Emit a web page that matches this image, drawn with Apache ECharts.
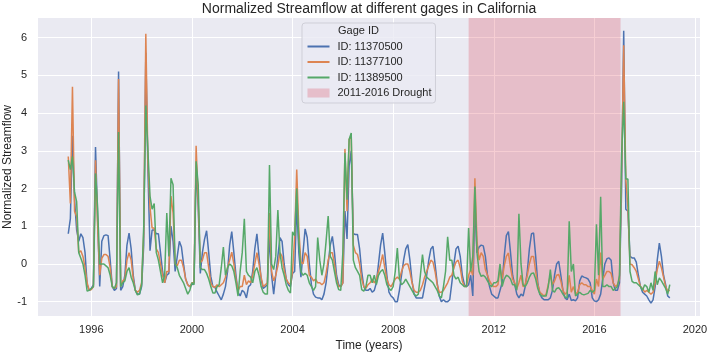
<!DOCTYPE html>
<html>
<head>
<meta charset="utf-8">
<script src="https://cdn.jsdelivr.net/npm/echarts@6/dist/echarts.min.js"></script>
<style>
  html, body { margin: 0; padding: 0; background: #fff; }
  #chart { width: 708px; height: 352px; }
</style>
</head>
<body>
<div id="chart"></div>
<script>
// monthly normalized streamflow, Jan 1995 .. Dec 2018 (one row per year)
const flow11370500 = [
  0.8, 1.2, 3.4, 1.7, 0.9, 0.6, 0.8, 0.7, 0.3, -0.55, -0.7, -0.65,
  -0.55, 3.1, 1.2, -0.6, 0.6, 0.75, 0.77, 0.75, 0.1, -0.6, -0.7, -0.65,
  5.1, -0.7, -0.6, -0.3, 0.5, 0.82, 0.4, -0.3, -0.7, -0.8, -0.8, -0.6,
  0.5, 5.6, 2.5, 0.35, 0.9, 0.9, 0.8, 0.8, 0.3, -0.2, -0.5, -0.3,
  -0.25, 1.0, 0.6, -0.2, 0.2, 0.6, 0.45, 0.0, -0.4, -0.55, -0.6, -0.55,
  -0.5, 2.6, 1.5, -0.25, 0.3, 0.65, 0.88, 0.3, -0.33, -0.6, -0.62, -0.75,
  -0.85, -0.95, -0.8, -0.6, -0.2, 0.5, 0.86, 0.3, -0.3, -0.75, -0.85, -0.7,
  -0.75, -0.9, -0.6, -0.55, -0.2, 0.4, 0.8, 0.2, -0.4, -0.65, -0.6, -0.55,
  0.75, -0.3, -0.8, -0.3, 0.2, 0.7, 0.6, 0.0, -0.4, -0.55, -0.6, -0.25,
  -0.2, 1.6, 0.3, -0.35, 0.3, 0.93, 0.7, 0.0, -0.55, -0.8, -0.88, -0.9,
  -0.9, -0.95, -0.8, -0.5, 0.0, 0.5, 0.73, 0.3, -0.3, -0.55, -0.6, -0.5,
  1.4, 0.66, 2.6, 3.0, 0.8, 0.78, 0.78, 0.4, -0.2, -0.6, -0.7, -0.7,
  -0.65, -0.75, -0.7, -0.5, 0.0, 0.5, 0.82, 0.3, -0.3, -0.75, -0.85, -0.9,
  -1.0, -1.0, -0.7, -0.3, 0.1, 0.4, 0.51, 0.1, -0.45, -0.8, -0.9, -0.9,
  -0.9, -0.9, -0.6, -0.3, 0.1, 0.4, 0.47, 0.0, -0.5, -0.85, -1.0, -0.95,
  -1.0, -1.0, -0.95, -0.5, 0.0, 0.4, 0.47, 0.2, -0.3, -0.55, -0.6, -0.55,
  -0.3, -0.85, 1.6, 0.3, 0.45, 0.5, 0.48, 0.2, -0.3, -0.6, -0.8, -0.85,
  -0.9, -0.9, -0.7, -0.5, 0.2, 0.75, 0.86, 0.3, -0.3, -0.55, -0.8, -0.9,
  -0.8, -0.85, -0.6, -0.2, 0.4, 0.8, 0.82, 0.2, -0.5, -0.8, -0.9, -0.95,
  -0.95, -0.95, -0.9, -0.7, -0.3, 0.0, 0.07, -0.3, -0.7, -0.9, -0.95, -0.8,
  -0.97, -0.95, -0.98, -0.9, -0.45, -0.32, -0.35, -0.37, -0.4, -0.5, -0.9, -0.98,
  -1.0, -0.95, -0.8, -0.4, 0.0, 0.14, 0.16, 0.1, -0.5, -0.7, -0.7, -0.5,
  2.0, 6.18, 1.45, 1.4, 0.2, 0.16, 0.16, 0.05, -0.3, -0.6, -0.75, -0.8,
  -0.85, -0.95, -1.04, -0.95, -0.6, 0.1, 0.55, 0.2, -0.3, -0.55, -0.85, -0.9
];
const flow11377100 = [
  2.85, 1.6, 4.7, 1.4, 1.25, 0.3, 0.35, 0.2, -0.1, -0.5, -0.7, -0.68,
  -0.6, 2.75, 1.0, -0.3, 0.15, 0.25, 0.25, 0.2, -0.1, -0.6, -0.65, -0.6,
  4.9, -0.6, -0.45, -0.4, 0.1, 0.3, 0.1, -0.4, -0.7, -0.75, -0.7, -0.5,
  0.8, 6.1, 2.7, 1.5, 0.95, 0.95, 0.4, 0.3, 0.0, -0.3, -0.5, -0.2,
  -0.2, 1.8, 1.35, 0.0, -0.05, 0.1, 0.1, -0.1, -0.4, -0.55, -0.6, -0.5,
  -0.5, 3.13, 1.6, 0.03, 0.1, 0.3, 0.3, -0.1, -0.5, -0.6, -0.62, -0.55,
  -0.6, -0.55, -0.5, -0.35, -0.1, 0.1, 0.31, 0.0, -0.4, -0.7, -0.6, -0.6,
  -0.3, -0.55, -0.45, -0.5, -0.3, 0.0, 0.3, 0.0, -0.35, -0.6, -0.55, -0.5,
  1.35, -0.2, -0.45, -0.3, -0.05, 0.3, 0.2, -0.15, -0.4, -0.5, -0.55, -0.2,
  0.7, 2.5, 0.9, 0.05, 0.0, 0.3, 0.2, -0.3, -0.35, -0.45, -0.4, -0.5,
  -0.5, -0.55, -0.5, -0.25, 0.1, 0.3, 0.3, 0.0, -0.4, -0.6, -0.6, -0.5,
  3.05, 1.4, 3.3, 3.4, 0.5, 0.3, 0.25, 0.0, -0.4, -0.6, -0.65, -0.55,
  -0.5, -0.4, -0.5, -0.4, -0.2, 0.0, 0.25, -0.1, -0.4, -0.55, -0.6, -0.5,
  -0.4, -0.35, -0.4, -0.2, -0.05, 0.0, 0.0, -0.2, -0.5, -0.7, -0.75, -0.75,
  -0.7, -0.55, -0.35, -0.2, -0.05, 0.1, 0.05, -0.2, -0.55, -0.75, -0.75, -0.7,
  -0.6, -0.5, -0.35, -0.3, -0.1, 0.05, 0.1, -0.1, -0.45, -0.6, -0.6, -0.3,
  -0.15, -0.3, 2.27, 0.6, 0.1, 0.3, 0.2, -0.15, -0.3, -0.45, -0.55, -0.6,
  -0.6, -0.55, -0.1, -0.4, -0.05, 0.2, 0.29, -0.1, -0.4, -0.5, -0.65, -0.5,
  -0.3, -0.6, -0.55, -0.3, 0.0, 0.2, 0.2, -0.2, -0.55, -0.75, -0.8, -0.85,
  -0.8, -0.55, -0.3, -0.55, -0.45, -0.3, -0.28, -0.45, -0.7, -0.8, -0.75, -0.3,
  -0.75, -0.6, -0.8, -0.75, -0.55, -0.5, -0.55, -0.55, -0.6, -0.6, -0.7, -0.8,
  -0.4, -0.6, 0.3, -0.4, -0.3, -0.2, -0.2, -0.25, -0.5, -0.6, -0.55, -0.4,
  2.5, 5.8, 2.25, 1.5, 0.0, -0.02, -0.1, -0.2, -0.4, -0.6, -0.65, -0.75,
  -0.7, -0.75, -0.8, -0.75, -0.5, -0.15, 0.07, -0.1, -0.35, -0.6, -0.72, -0.7
];
const flow11389500 = [
  2.75, 2.5, 2.85, 1.9, 1.65, 0.3, 0.15, 0.0, -0.3, -0.72, -0.7, -0.65,
  -0.6, 2.4, 1.5, 0.0, 0.0, 0.0, -0.05, -0.1, -0.3, -0.6, -0.65, -0.5,
  3.5, -0.6, -0.5, -0.45, -0.2, -0.1, -0.35, -0.5, -0.7, -0.82, -0.8, -0.55,
  1.0, 4.2, 3.0, 1.8, 1.45, 1.6, 0.3, 0.1, -0.2, -0.5, -0.3, 1.35,
  0.2, 2.27, 2.1, 0.0, -0.1, -0.3, -0.4, -0.5, -0.65, -0.8, -0.7, -0.5,
  -0.55, 2.72, 2.1, -0.1, -0.15, -0.15, -0.25, -0.4, -0.6, -0.77, -0.77, -0.6,
  -0.55, -0.1, 0.45, -0.3, -0.1, 0.0, -0.05, -0.2, -0.5, -0.85, -0.2, 0.3,
  1.2, -0.2, -0.3, -0.35, -0.5, -0.2, -0.1, -0.3, -0.6, -0.75, -0.8, -0.8,
  2.62, 0.0, -0.15, 0.2, 1.43, 0.3, -0.1, -0.3, -0.55, -0.7, -0.77, 0.85,
  0.75, 2.0, 0.6, -0.2, -0.3, -0.25, -0.3, -0.5, -0.6, -0.7, -0.6, 0.7,
  0.1, -0.3, 0.0, 0.6, 1.27, 0.2, 0.1, -0.2, -0.5, -0.68, -0.7, 0.3,
  2.95, 1.7, 3.3, 3.47, 0.1, -0.1, -0.2, -0.3, -0.68, -0.72, -0.6, -0.3,
  -0.3, -0.5, -0.3, -0.55, -0.3, -0.2, -0.15, -0.3, -0.55, -0.65, -0.7, -0.6,
  -0.2, 0.42, -0.4, -0.55, -0.5, -0.4, -0.5, -0.6, -0.7, -0.8, -0.85, -0.8,
  -0.3, 0.25, -0.2, -0.35, -0.4, -0.45, -0.5, -0.6, -0.7, -0.85, -0.9, -0.6,
  -0.2, 0.72, 0.1, 0.1, -0.3, -0.4, -0.35, -0.5, -0.55, -0.6, -0.6, 0.95,
  -0.2, 0.2, 2.05, 0.3, -0.2, -0.33, -0.3, -0.35, -0.45, -0.55, -0.6, -0.5,
  -0.5, -0.45, 0.0, -0.6, -0.4, -0.3, -0.33, -0.4, -0.55, -0.55, -0.7, 1.33,
  0.0, -0.55, -0.6, -0.5, -0.35, -0.25, -0.24, -0.4, -0.65, -0.8, -0.85, -0.85,
  -0.85, -0.6, -0.15, -0.7, -0.75, -0.65, -0.63, -0.7, -0.8, -0.88, -0.9, 1.13,
  -0.2, 0.0, -0.85, -0.8, -0.75, -0.8, -0.82, -0.8, -0.78, -0.7, -0.75, -0.7,
  1.05, -0.3, 1.78, -0.6, -0.6, -0.55, -0.6, -0.6, -0.7, -0.65, -0.6, -0.3,
  2.9, 4.3, 2.25, 2.25, -0.2, -0.46, -0.5, -0.5, -0.55, -0.6, -0.7, -0.55,
  -0.6, -0.75, -0.5, -0.7, -0.2, -0.55, -0.37, -0.45, -0.55, -0.65, -0.8, -0.55
];
const gageNames = ["ID: 11370500", "ID: 11377100", "ID: 11389500"];
const gageColors = ["#4c72b0", "#dd8452", "#55a868"];
const droughtName = "2011-2016 Drought";
const droughtSpan = [2011.0, 2017.04];
const xTicks = [1996, 2000, 2004, 2008, 2012, 2016, 2020];
const yTicks = [-1, 0, 1, 2, 3, 4, 5, 6];
const startYear = 1995;

const TEXT = "#262626";
const FONT = "Liberation Sans";
const DROUGHT_FILL = "rgba(220,60,80,0.25)";

// month-end positions as decimal years
function toPoints(values) {
  return values.map((v, i) => [startYear + (i + 1) / 12, v]);
}

const chart = echarts.init(document.getElementById("chart"), null, { renderer: "canvas" });

const lineSeries = [flow11370500, flow11377100, flow11389500].map((vals, k) => ({
  name: gageNames[k],
  type: "line",
  data: toPoints(vals),
  symbol: "none",
  color: gageColors[k],
  lineStyle: { width: 1.5, color: gageColors[k] },
  z: 3 + k,
}));

const option = {
  animation: false,
  backgroundColor: "#ffffff",
  grid: {
    left: 38, right: 8, top: 18, bottom: 36,
    containLabel: false, outerBoundsMode: "none",
    show: true, backgroundColor: "#eaeaf2", borderWidth: 0,
  },
  graphic: [
    {
      type: "text", x: 369, y: 9, z: 10,
      style: { text: "Normalized Streamflow at different gages in California", fill: TEXT,
        font: '14px "' + FONT + '"', textAlign: "center", textVerticalAlign: "middle" },
    },
    {
      // y axis title
      type: "text", x: 8, y: 167, rotation: Math.PI / 2, z: 10,
      style: { text: "Normalized Streamflow", fill: TEXT, font: '12px "' + FONT + '"',
        textAlign: "center", textVerticalAlign: "middle" },
    },
    {
      type: "text", x: 338, y: 31, z: 10,
      style: { text: "Gage ID", fill: TEXT, font: '11px "' + FONT + '"', textVerticalAlign: "middle" },
    },
  ],
  legend: {
    orient: "vertical",
    left: 302, top: 23,
    padding: [17.5, 4, 4, 4.5],
    itemWidth: 22, itemHeight: 9, itemGap: 3.5,
    backgroundColor: "rgba(234,234,242,0.8)",
    borderColor: "#cfcfd8", borderWidth: 1, borderRadius: 3,
    textStyle: { color: TEXT, fontSize: 11, fontFamily: FONT, lineHeight: 12, padding: [0, 0, 0, 3] },
    itemStyle: { opacity: 0 },
    data: [
      { name: gageNames[0] },
      { name: gageNames[1] },
      { name: gageNames[2] },
      { name: droughtName, icon: "rect", itemStyle: { opacity: 1, color: DROUGHT_FILL } },
    ],
  },
  xAxis: {
    type: "value",
    min: 1993.88, max: 2020.2,
    name: "Time (years)", nameLocation: "middle", nameGap: 24,
    nameTextStyle: { color: TEXT, fontSize: 12, fontFamily: FONT },
    axisLine: { show: false },
    axisTick: { show: false, customValues: xTicks },
    axisLabel: {
      customValues: xTicks, color: TEXT, fontSize: 11, fontFamily: FONT, margin: 8,
      formatter: (v) => String(Math.round(v)),
    },
    splitLine: { show: true, lineStyle: { color: "#ffffff", width: 1 } },
  },
  yAxis: {
    type: "value",
    min: -1.38, max: 6.52,
    axisLine: { show: false },
    axisTick: { show: false, customValues: yTicks },
    axisLabel: { customValues: yTicks, color: TEXT, fontSize: 11, fontFamily: FONT, margin: 11 },
    splitLine: { show: true, lineStyle: { color: "#ffffff", width: 1 } },
  },
  series: [
    {
      name: droughtName,
      type: "line",
      data: [],
      color: DROUGHT_FILL,
      z: 2,
      markArea: {
        silent: true,
        label: { show: false },
        itemStyle: { color: DROUGHT_FILL },
        data: [[{ xAxis: droughtSpan[0] }, { xAxis: droughtSpan[1] }]],
      },
    },
    ...lineSeries,
  ],
};

chart.setOption(option);
</script>
</body>
</html>
